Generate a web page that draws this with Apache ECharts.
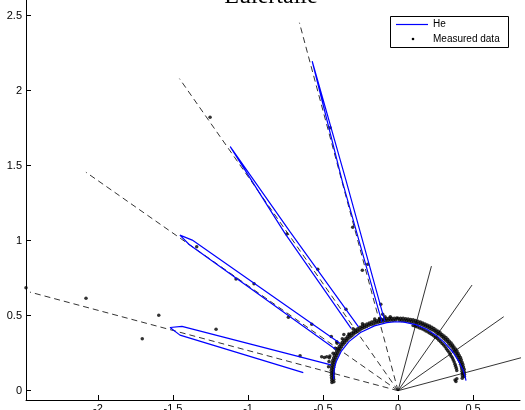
<!DOCTYPE html>
<html><head><meta charset="utf-8">
<script src="https://cdn.jsdelivr.net/npm/echarts@6/dist/echarts.min.js"></script>
<style>html,body{margin:0;padding:0;background:#fff}#c{width:525px;height:410px}</style>
</head><body><div id="c"></div>
<script>
// ---- data ----
const titleText = 'Eulertalle';
const xTicks = [-2, -1.5, -1, -0.5, 0, 0.5];
const yTicks = [0, 0.5, 1, 1.5, 2, 2.5];
const solidRayAngles = [15, 35, 55, 75];      // degrees
const solidRayLength = 0.86;
const dashedRayAngles = [105, 125, 145, 165]; // degrees
const dashedRayLength = 2.54;

// "He" model curve, polar [angle deg, radius]
const heArc = [[8.4,0.458],[12,0.457],[17.6,0.455],[25,0.45],[35,0.447],[46,0.446],[55,0.448],[65,0.452],[75,0.456],[85,0.459],[92,0.46],[99.4,0.46],[110,0.46],[122.8,0.462],[135,0.463],[145,0.461],[155,0.455],[160,0.45],[165,0.443],[170,0.436]];
const heLobe105 = [[100.8,0.47],[103.9,1.45],[104.6,2.27],[104.9,1.45],[103.2,0.47]];
const heLobe125 = [[121.8,0.50],[124.2,1.28],[124.5,1.975],[125.7,1.29],[127.0,0.52]];
const heLobe145 = [[140.8,0.50],[143.8,1.70],[144.5,1.786],[145.0,1.70],[146.5,0.50]];
const heLobe165 = [[159.0,0.479],[163.4,1.503],[164.5,1.577],[165.7,1.50],[169.2,0.643]];

// Measured data, polar [angle deg, radius] (dense arc)
const measArcOuterA = [[12,0.452],[14,0.456],[16,0.459],[18,0.463],[20,0.464],[22,0.466],[24,0.467],[26,0.469],[28,0.471],[30,0.471],[32,0.472],[34,0.474],[36,0.474],[38,0.473],[40,0.475],[42,0.476],[44,0.475],[46,0.476],[48,0.477],[50,0.477],[52,0.476],[54,0.478],[56,0.479],[58,0.478],[60,0.479],[62,0.48],[64,0.48],[66,0.479],[68,0.48],[70,0.481],[72,0.482],[74,0.481],[76,0.482],[78,0.483],[80,0.482],[82,0.482],[84,0.483],[86,0.484],[88,0.483],[90,0.483]];
const measArcOuterB = [[11,0.436],[13,0.44],[15,0.444],[17,0.446],[19,0.449],[21,0.452],[23,0.453],[25,0.455],[27,0.455],[29,0.457],[31,0.458],[33,0.46],[35,0.46],[37,0.46],[39,0.462],[41,0.461],[43,0.462],[45,0.463],[47,0.462],[49,0.463],[51,0.464],[53,0.464],[55,0.463],[57,0.465],[59,0.466],[61,0.465],[63,0.466],[65,0.467],[67,0.466],[69,0.467],[71,0.468],[73,0.467],[75,0.468],[77,0.469],[79,0.468],[81,0.468],[83,0.47],[85,0.469],[87,0.469],[89,0.47]];
const measArcInner = [[19,0.414],[21,0.416],[23,0.417],[25,0.419],[27,0.42],[29,0.421],[31,0.423],[33,0.423],[35,0.424],[37,0.426],[39,0.426],[41,0.427],[43,0.429],[45,0.43],[47,0.431],[49,0.432],[51,0.433],[53,0.435],[55,0.435],[57,0.436],[59,0.437],[61,0.438],[63,0.44],[65,0.44],[67,0.441],[69,0.443],[71,0.443],[73,0.444],[75,0.445],[77,0.446]];
const measArcLeftA = [[91,0.484],[93,0.484],[95,0.485],[97,0.487],[99,0.487],[101,0.486],[103,0.488],[105,0.489],[107,0.488],[109,0.489],[111,0.49],[113,0.49],[115,0.491],[117,0.492],[119,0.491],[121,0.493],[123,0.493],[125,0.494],[127,0.493],[129,0.492],[131,0.494],[133,0.493],[135,0.492],[137,0.494],[139,0.492],[141,0.491],[143,0.491],[145,0.489],[147,0.488],[149,0.486],[151,0.485],[153,0.482],[155,0.48],[157,0.477],[159,0.474],[161,0.469],[163,0.465],[165,0.46],[167,0.456],[169,0.452],[171,0.447],[173,0.444]];
const measArcLeftB = [[92,0.471],[94,0.47],[96,0.472],[98,0.473],[100,0.474],[102,0.473],[104,0.474],[106,0.475],[108,0.475],[110,0.474],[112,0.476],[114,0.477],[116,0.477],[118,0.478],[120,0.479],[122,0.478],[124,0.479],[126,0.48],[128,0.479],[130,0.478],[132,0.479],[134,0.48],[136,0.479],[138,0.478],[140,0.478],[142,0.477],[144,0.476],[146,0.474],[148,0.472],[150,0.471],[152,0.469],[154,0.467],[156,0.465],[158,0.461],[160,0.457],[162,0.453],[164,0.449],[166,0.445],[168,0.44],[170,0.436],[172,0.432]];
const measArcScatter = [[96,0.495],[100,0.5],[104,0.497],[108,0.503],[118,0.505],[126,0.51],[131,0.5],[134,0.52],[137,0.508],[142,0.515],[146,0.505],[150,0.5],[153,0.51],[157,0.5],[161,0.49]];
// Measured data, cartesian (scattered points)
const measX = [-2.48,-2.08,-1.595,-1.705,-1.213,-0.653,-0.509,-0.491,-0.458,-0.475,-0.731,-0.575,-0.445,-0.409,-1.253,-0.742,-0.535,-0.347,-1.342,-1.08,-0.96,-0.453,-0.302,-0.202,-0.238,-0.115,-0.102,0.38,0.392,0.386];
const measY = [0.687,0.616,0.503,0.347,0.409,0.233,0.227,0.222,0.22,0.227,0.489,0.443,0.362,0.327,1.823,1.045,0.809,0.543,0.96,0.745,0.713,1.753,1.089,0.843,0.803,0.576,0.509,0.071,0.08,0.062];

// ---- build ----
const toXY = (a, r) => [r * Math.cos(a * Math.PI / 180), r * Math.sin(a * Math.PI / 180)];
const polarList = list => list.map(p => toXY(p[0], p[1]));

const series = [];
solidRayAngles.forEach(a => series.push({
  type: 'line', data: [[0, 0], toXY(a, solidRayLength)], symbol: 'none', silent: true,
  lineStyle: { color: '#000', width: 0.8 }, z: 2
}));
dashedRayAngles.forEach(a => series.push({
  type: 'line', data: [[0, 0], toXY(a, dashedRayLength)], symbol: 'none', silent: true,
  lineStyle: { color: '#000', width: 0.8, type: [6, 4] }, z: 2
}));
const measData = []
  .concat(polarList(measArcOuterA), polarList(measArcOuterB), polarList(measArcInner),
          polarList(measArcLeftA), polarList(measArcLeftB), polarList(measArcScatter))
  .concat(measX.map((x, i) => [x, measY[i]]));
series.push({
  name: 'Measured data', type: 'scatter', data: measData, symbolSize: 3.5,
  itemStyle: { color: '#000' }, z: 3, silent: true
});
[heArc, heLobe105, heLobe125, heLobe145, heLobe165].forEach(seg => series.push({
  name: 'He', type: 'line', data: polarList(seg), symbol: 'none', silent: true,
  lineStyle: { color: '#0000ff', width: 1.2 }, z: 4
}));

const chart = echarts.init(document.getElementById('c'), null, { renderer: 'canvas' });
chart.setOption({
  animation: false,
  backgroundColor: '#fff',
  grid: { left: 26, right: 5, top: 0, bottom: 10, containLabel: false, outerBoundsMode: 'none' },
  xAxis: {
    type: 'value', min: -2.48, max: 0.813,
    axisLine: { show: true, onZero: false, lineStyle: { color: '#000', width: 1 } },
    axisTick: { show: true, inside: true, length: 5, customValues: xTicks, lineStyle: { color: '#000' } },
    axisLabel: { customValues: xTicks, color: '#000', fontSize: 11, fontFamily: 'Liberation Sans', margin: 3 },
    splitLine: { show: false }
  },
  yAxis: {
    type: 'value', min: -0.062, max: 2.605,
    axisLine: { show: true, onZero: false, lineStyle: { color: '#000', width: 1 } },
    axisTick: { show: true, inside: true, length: 5, customValues: yTicks, lineStyle: { color: '#000' } },
    axisLabel: { customValues: yTicks, color: '#000', fontSize: 11, fontFamily: 'Liberation Sans', margin: 4 },
    splitLine: { show: false }
  },
  series: series,
  graphic: [
    { type: 'text', x: 271, y: 9, z: 10,
      style: { text: titleText, font: '24px "Liberation Serif"', fill: '#000', align: 'center', verticalAlign: 'bottom' } },
    { type: 'rect', shape: { x: 390.5, y: 16.5, width: 118, height: 31 }, z: 10,
      style: { fill: '#fff', stroke: '#000', lineWidth: 1 } },
    { type: 'line', shape: { x1: 396, y1: 24.5, x2: 428, y2: 24.5 }, z: 11,
      style: { stroke: '#0000ff', lineWidth: 1.2 } },
    { type: 'text', x: 433, y: 24.5, z: 11,
      style: { text: 'He', font: '10px "Liberation Sans"', fill: '#000', verticalAlign: 'middle' } },
    { type: 'circle', shape: { cx: 413, cy: 39, r: 1.3 }, z: 11, style: { fill: '#000' } },
    { type: 'text', x: 433, y: 39, z: 11,
      style: { text: 'Measured data', font: '10px "Liberation Sans"', fill: '#000', verticalAlign: 'middle' } }
  ]
});
</script>
</body></html>
